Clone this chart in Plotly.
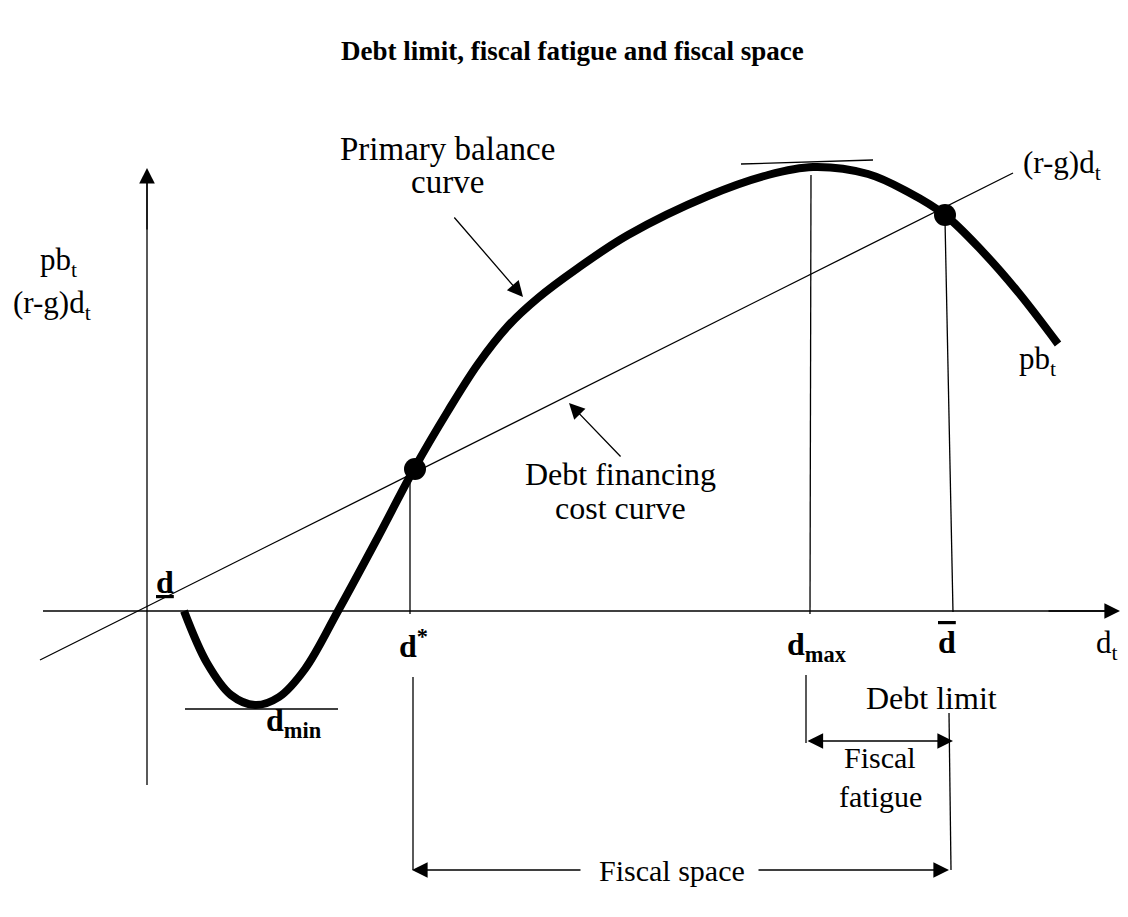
import plotly.graph_objects as go

# diagram units: 1 unit = 1 px, origin where the two axes cross
# primary balance curve pb_t
pb_x = [37, 60, 84, 108, 132, 158, 191, 230, 267, 301, 331, 361, 391, 431,
        481, 561, 621, 666, 721, 761, 798, 836, 871, 911]
pb_y = [0, -52, -84, -94, -86, -58, 0, 72, 142, 200, 247, 285, 313, 343,
        376, 415, 436, 444, 437, 419, 396, 359, 319, 267]

# debt financing cost line (r-g)d_t, end points
cost_x = [-107, 866]
cost_y = [-49, 438]

# key debt levels
d_star = 268
d_max = 666
d_bar = 798
pb_at_star = 142
pb_at_bar = 396
pb_min = -94
pb_max = 444

FONT = "Liberation Serif"
BLACK = "black"

fig = go.Figure()

def seg(x, y, w=1.3):
    fig.add_trace(go.Scatter(x=x, y=y, mode="lines", line=dict(color=BLACK, width=w),
                             hoverinfo="skip", showlegend=False))

# axes
seg([0, 0], [-174, 430])
seg([-104, 960], [0, 0])

# cost line
seg(cost_x, cost_y)

# tangents at min and max
seg([38, 191], [pb_min - 4, pb_min - 4])
seg([594, 726], [pb_max + 3, pb_max + 7])

# vertical guide lines
seg([d_star - 5, d_star - 5], [pb_at_star, -3])
seg([d_star - 2, d_star - 2], [-66, -259])
seg([d_max - 2, d_max - 3], [pb_max - 8, -3])
seg([d_max - 7, d_max - 7], [-64, -132])
seg([d_bar, d_bar + 8], [pb_at_bar - 5, -1])
seg([d_bar + 4, d_bar + 6], [-102, -259])

# primary balance curve
fig.add_trace(go.Scatter(x=pb_x, y=pb_y, mode="lines",
                         line=dict(color=BLACK, width=8, shape="spline", smoothing=1.0),
                         hoverinfo="skip", showlegend=False))

# equilibrium points
fig.add_trace(go.Scatter(x=[d_star, d_bar], y=[pb_at_star, pb_at_bar], mode="markers",
                         marker=dict(color=BLACK, size=22),
                         hoverinfo="skip", showlegend=False))

def arrow(x, y, ax, ay, both=False):
    fig.add_annotation(x=x, y=y, ax=ax, ay=ay, xref="x", yref="y", axref="x", ayref="y",
                       text="", showarrow=True, arrowhead=2, arrowsize=2.4,
                       arrowwidth=1.3, arrowcolor=BLACK,
                       arrowside="end+start" if both else "end")

arrow(0, 443, 0, 380)
arrow(973, 0, 900, 0)
arrow(376, 314, 306, 395)
arrow(422, 208, 475, 153)
arrow(806, -130, 659, -130, both=True)
arrow(265, -259, 435, -259)
arrow(802, -259, 610, -259)

def label(x, y, text, size=32, xanchor="center"):
    fig.add_annotation(x=x, y=y, xref="x", yref="y", text=text, showarrow=False,
                       xanchor=xanchor, yanchor="middle",
                       font=dict(family=FONT, size=size, color=BLACK))

label(425, 560, "<b>Debt limit, fiscal fatigue and fiscal space</b>", size=27)
label(-89, 349, "pb<sub>t</sub>", size=31)
label(-95, 306, "(r-g)d<sub>t</sub>", size=31)
label(18, 29, "<b><u>d</u></b>")
label(250, -33, "<b>d<sup>*</sup></b>", xanchor="left")
label(117, -111, "<b>d<sub>min</sub></b>", xanchor="left")
label(638, -35, "<b>d<sub>max</sub></b>", xanchor="left")
label(800, -31, "<b><span style='text-decoration:overline'>d</span></b>")
label(960, -34, "d<sub>t</sub>", size=31)
label(784, -87, "Debt limit")
label(733, -146, "Fiscal", size=30)
label(733, -185, "fatigue", size=30)
label(525, -259, "Fiscal space", size=30)
label(300, 462, "Primary balance", size=33)
label(300, 429, "curve", size=33)
label(473, 137, "Debt financing")
label(473, 103, "cost curve")
label(915, 446, "(r-g)d<sub>t</sub>", size=31)
label(890, 250, "pb<sub>t</sub>", size=31)

fig.update_xaxes(range=[-139, 989], visible=False, fixedrange=True)
fig.update_yaxes(range=[-314, 603], visible=False, fixedrange=True)
fig.update_layout(width=1128, height=917, margin=dict(l=0, r=0, t=0, b=0),
                  plot_bgcolor="white", paper_bgcolor="white", showlegend=False)

fig.write_html("out.html")
